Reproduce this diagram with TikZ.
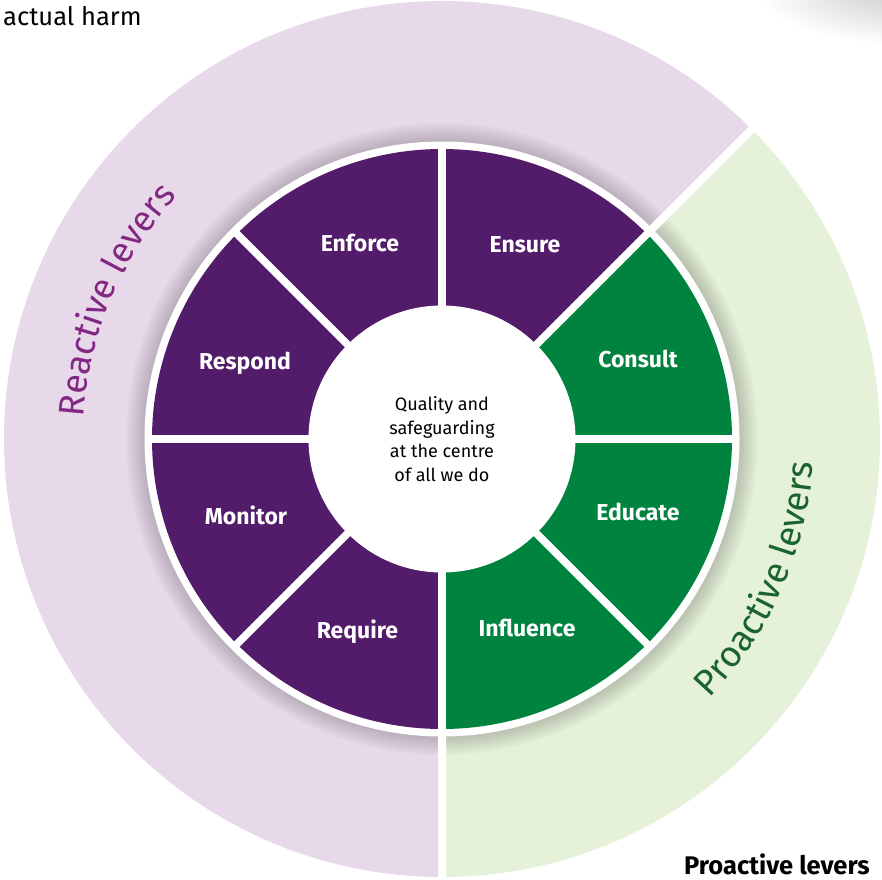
\documentclass[tikz,border=0pt]{standalone}
\usepackage{fontspec}
\setmainfont{Fira Sans}
\usetikzlibrary{decorations.text}
\definecolor{dpurple}{RGB}{82,28,106}
\definecolor{dgreen}{RGB}{0,131,62}
\definecolor{lpurple}{RGB}{232,217,234}
\definecolor{lgreen}{RGB}{229,241,217}
\definecolor{rtext}{RGB}{130,40,130}
\definecolor{ptext}{RGB}{25,100,45}
\tikzset{
  seglabel/.style={text=white, font=\fontsize{23}{27}\selectfont\bfseries, inner sep=0pt, anchor=base},
  gapline/.style={white, line width=8pt},
  innergap/.style={white, line width=7.5pt}
}
\begin{document}
\begin{tikzpicture}[x=1pt,y=1pt]
\useasboundingbox (-442,-440) rectangle (440,439);
\clip (-442,-440) rectangle (440,439);
% page shadow top right
\shade[inner color=gray!40, outer color=white] (455,450) ellipse[x radius=140pt, y radius=55pt];
% outer ring
\fill[lpurple] (0,0) -- (45:438pt) arc[start angle=45,end angle=270,radius=438pt] -- cycle;
\fill[lgreen] (0,0) -- (-90:438pt) arc[start angle=-90,end angle=45,radius=438pt] -- cycle;
% soft shadow around inner ring
\foreach \r in {298,300,...,316} \fill[black,opacity=0.02] (0,0) circle[radius=\r pt];
\draw[gapline] (0,0) -- (45:450pt) (0,0) -- (-90:450pt);
\fill[white] (0,0) circle[radius=297.5pt];
% inner segments
\foreach \a/\c in {0/dgreen,45/dpurple,90/dpurple,135/dpurple,180/dpurple,225/dpurple,270/dgreen,315/dgreen}
  \fill[\c] (0,0) -- (\a:290pt) arc[start angle=\a, end angle=\a+45, radius=290pt] -- cycle;
\foreach \a in {0,45,...,315} \draw[innergap] (0,0) -- (\a:292pt);
\node[circle, fill=white, minimum size=267pt, inner sep=0pt, align=center, text=black,
      font=\fontsize{18}{23.5}\selectfont] (core) at (0,0)
      {Quality and\\safeguarding\\at the centre\\of all we do};
% segment labels
\node[seglabel] (enforce) at (-82,188) {Enforce};
\node[seglabel] (ensure) at (83,187) {Ensure};
\node[seglabel] (consult) at (196,72) {Consult};
\node[seglabel] (educate) at (196,-81) {Educate};
\node[seglabel] (influence) at (85,-197) {Influence};
\node[seglabel] (require) at (-84.5,-199) {Require};
\node[seglabel] (monitor) at (-196,-85) {Monitor};
\node[seglabel] (respond) at (-197,70) {Respond};
% curved ring labels
\path[decorate, decoration={text along path, text align=center,
  text={|\fontsize{35.8}{40}\selectfont\color{rtext}|Reactive levers}}]
  (201:359pt) arc[start angle=201, end angle=113, radius=359pt];
\path[decorate, decoration={text along path, text align=center,
  text={|\fontsize{36.2}{40}\selectfont\color{ptext}|Proactive levers}}]
  (-62:372pt) arc[start angle=-62, end angle=14.2, radius=372pt];
% corner texts
\node[anchor=base west, inner sep=0pt, font=\fontsize{25.5}{30}\selectfont] (harm) at (-439,413) {actual harm};
\node[anchor=base east, inner sep=0pt, font=\fontsize{25.5}{29}\selectfont\bfseries] (plev) at (428,-435) {Proactive levers};
\end{tikzpicture}
\end{document}
